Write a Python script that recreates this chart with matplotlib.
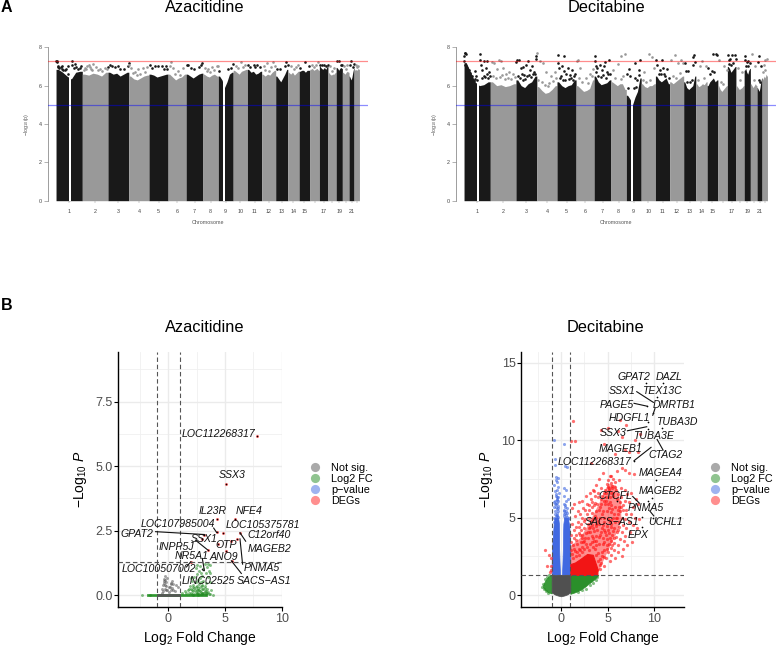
#!/usr/bin/env python3
import matplotlib
matplotlib.use("Agg")
import matplotlib.pyplot as plt
from matplotlib.lines import Line2D

plt.rcParams['font.family'] = ['Liberation Sans', 'DejaVu Sans']
plt.rcParams['mathtext.fontset'] = 'custom'
plt.rcParams['mathtext.rm'] = 'Liberation Sans'
plt.rcParams['mathtext.it'] = 'Liberation Sans:italic'
plt.rcParams['mathtext.default'] = 'regular'

# ---- manhattan data ----
chrom_len = [249, 243, 198, 191, 181, 171, 159, 146, 141, 135, 135, 133, 115, 107, 102, 90, 81, 78, 59, 63, 48, 51]
chrom_ticks = ['1', '2', '3', '4', '5', '6', '7', '8', '9', '10', '11', '12', '13', '14', '15', '', '17', '', '19', '', '21', '']
gap_chrom = [1, 9]
gap_start = [124, 47]
gap_end = [141, 66]

aza_top = [
    [6.85, 6.7, 6.5, 6.35, 6.7, 6.75], [6.6, 6.55, 6.65, 6.6, 6.5, 6.7], [6.7, 6.6, 6.65, 6.5, 6.6, 6.7],
    [6.5, 6.35, 6.3, 6.4, 6.5, 6.55], [6.6, 6.55, 6.45, 6.5, 6.55, 6.6], [6.6, 6.45, 6.3, 6.4, 6.45, 6.6],
    [6.6, 6.5, 6.4, 6.5, 6.6, 6.65], [6.6, 6.5, 6.45, 6.55, 6.6, 6.5], [6.5, 6.3, 5.9, 6.2, 6.6, 6.7],
    [6.8, 6.7, 6.6, 6.75, 6.8, 6.85], [6.85, 6.7, 6.75, 6.6, 6.65, 6.75], [6.6, 6.5, 6.6, 6.55, 6.7, 6.8],
    [6.5, 6.35, 6.2, 6.4, 6.6, 6.85], [6.7, 6.6, 6.7, 6.55, 6.65, 6.75], [6.75, 6.8, 6.8, 6.7, 6.8, 6.8],
    [6.85, 6.9, 6.8, 6.85, 6.9, 6.8], [7.0, 6.9, 6.85, 6.95, 6.85, 7.0], [6.7, 6.6, 6.55, 6.6, 6.6, 6.7],
    [6.95, 6.9, 6.8, 6.9, 6.95, 6.9], [6.7, 6.65, 6.6, 6.7, 6.75, 6.7], [6.5, 6.4, 6.3, 6.45, 6.7, 6.9],
    [6.85, 6.8, 6.85, 6.8, 6.9, 6.85]]

dec_top = [
    [7.2, 6.7, 6.2, 6.0, 6.05, 6.2], [6.2, 6.0, 6.05, 5.95, 6.0, 6.1], [6.3, 6.0, 5.9, 6.1, 6.2, 6.5],
    [5.95, 5.75, 5.6, 5.65, 5.8, 6.0], [6.2, 6.0, 5.9, 6.0, 6.05, 6.3], [6.0, 5.85, 5.7, 5.75, 5.85, 6.3],
    [6.5, 6.2, 6.05, 6.1, 6.15, 6.3], [6.2, 6.1, 6.0, 6.1, 6.1, 5.8], [5.5, 5.3, 5.0, 5.4, 5.7, 6.4],
    [6.1, 5.95, 5.9, 6.0, 6.0, 6.1], [6.5, 6.3, 6.2, 6.3, 6.4, 6.1], [6.2, 6.1, 6.2, 6.3, 6.4, 6.5],
    [6.2, 5.9, 5.8, 5.9, 6.0, 6.5], [6.1, 5.95, 6.0, 6.1, 6.05, 6.2], [6.0, 6.2, 6.3, 6.4, 6.2, 6.3],
    [6.0, 5.8, 5.7, 5.8, 5.9, 6.0], [7.0, 6.9, 6.7, 6.8, 6.9, 7.0], [6.0, 5.9, 5.8, 5.85, 5.9, 6.0],
    [6.8, 6.9, 6.7, 6.6, 6.8, 6.9], [6.1, 6.0, 5.9, 6.0, 6.1, 6.0], [5.9, 5.8, 5.7, 5.9, 6.2, 6.4],
    [6.3, 6.4, 6.5, 6.4, 6.6, 6.5]]

aza_hits = [
    (1, 3, 7.3), (1, 6, 7.3), (1, 10, 7.25), (1, 14, 7.05), (1, 22, 6.95), (1, 30, 6.9), (1, 44, 6.95), (1, 52, 7.05),
    (1, 60, 6.85), (1, 70, 6.8), (1, 82, 6.8), (1, 95, 6.85), (1, 110, 7.05), (1, 118, 6.6), (1, 150, 7.3), (1, 155, 7.1),
    (1, 170, 6.9), (1, 180, 7.15), (1, 190, 6.95), (1, 205, 6.85), (1, 225, 6.9), (1, 240, 7.0),
    (2, 25, 6.9), (2, 45, 7.05), (2, 60, 7.1), (2, 80, 6.85), (2, 105, 7.15), (2, 130, 6.95), (2, 170, 6.85), (2, 215, 6.9),
    (3, 5, 6.95), (3, 18, 7.1), (3, 40, 7.0), (3, 65, 6.95), (3, 95, 7.05), (3, 110, 6.85), (3, 150, 6.85), (3, 190, 7.05), (3, 196, 7.2),
    (4, 5, 7.1), (4, 20, 6.9), (4, 55, 6.7), (4, 90, 6.85), (4, 130, 6.9), (4, 170, 6.95),
    (5, 6, 7.1), (5, 25, 6.9), (5, 60, 7.05), (5, 90, 7.05), (5, 120, 7.05), (5, 140, 6.85), (5, 165, 7.05), (5, 175, 6.85),
    (6, 20, 7.0), (6, 45, 6.9), (6, 95, 6.75), (6, 140, 6.9), (6, 32, 7.25),
    (7, 8, 7.1), (7, 22, 7.1), (7, 45, 6.9), (7, 70, 6.85), (7, 120, 6.95), (7, 145, 7.1), (7, 152, 7.2),
    (8, 20, 6.9), (8, 50, 6.85), (8, 90, 6.95), (8, 130, 7.0), (8, 142, 7.05),
    (9, 10, 6.75), (9, 95, 6.85), (9, 120, 6.9), (9, 135, 7.15),
    (10, 25, 7.0), (10, 70, 7.25), (10, 110, 7.1),
    (11, 5, 7.1), (11, 25, 6.95), (11, 60, 7.1), (11, 72, 6.95), (11, 95, 7.1), (11, 120, 6.95),
    (12, 20, 7.05), (12, 55, 7.2), (12, 90, 6.95), (12, 110, 7.25), (12, 128, 7.0),
    (13, 10, 6.85), (13, 40, 6.85), (13, 88, 7.05), (13, 100, 7.25), (13, 112, 7.1),
    (14, 30, 7.0), (14, 80, 6.95), (14, 100, 7.1),
    (15, 10, 6.9), (15, 60, 7.25), (15, 90, 7.05),
    (16, 20, 7.1), (16, 60, 7.1), (16, 80, 7.25),
    (17, 5, 7.1), (17, 25, 7.1), (17, 45, 7.1), (17, 65, 7.05), (17, 78, 7.1),
    (18, 20, 7.0), (18, 60, 6.9),
    (19, 10, 7.3), (19, 25, 7.3), (19, 45, 7.1), (19, 55, 7.1),
    (20, 15, 7.0), (20, 45, 7.1),
    (21, 10, 7.1), (21, 20, 7.3), (21, 35, 6.95), (21, 44, 7.15),
    (22, 15, 7.1), (22, 40, 7.05),
    (2, 12, 6.8), (2, 35, 6.85), (2, 70, 6.95), (2, 95, 6.8), (2, 150, 6.8), (2, 190, 6.75), (2, 230, 6.85),
    (4, 35, 6.65), (4, 75, 6.55), (4, 110, 6.6), (4, 150, 6.7), (6, 70, 6.6), (6, 110, 6.55), (8, 35, 6.75), (8, 70, 6.7), (8, 110, 6.8),
    (10, 45, 6.9), (10, 90, 6.95), (12, 35, 6.8), (12, 70, 6.75), (14, 55, 6.85), (16, 40, 6.95), (18, 40, 6.75), (20, 30, 6.85), (22, 28, 6.95)]

dec_hits = [
    (1, 2, 7.55), (1, 6, 7.68), (1, 12, 7.68), (1, 18, 7.66), (1, 4, 7.3), (1, 8, 7.1), (1, 15, 7.0), (1, 24, 6.9), (1, 30, 6.75),
    (1, 38, 6.55), (1, 45, 6.8), (1, 55, 6.65), (1, 62, 6.4), (1, 72, 6.5), (1, 82, 6.3), (1, 100, 6.75), (1, 112, 6.5), (1, 120, 6.3),
    (1, 148, 7.35), (1, 154, 7.66), (1, 162, 7.1), (1, 175, 6.8), (1, 190, 7.3), (1, 205, 6.9), (1, 220, 7.3), (1, 235, 6.7),
    (2, 15, 7.25), (2, 35, 7.2), (2, 60, 6.85), (2, 80, 7.35), (2, 105, 7.3), (2, 125, 6.9), (2, 150, 6.6), (2, 180, 6.7), (2, 215, 6.6),
    (3, 3, 7.25), (3, 10, 7.35), (3, 30, 7.35), (3, 45, 6.9), (3, 65, 6.95), (3, 95, 7.1), (3, 115, 7.3), (3, 130, 6.8), (3, 150, 7.0),
    (3, 170, 6.7), (3, 188, 7.4), (3, 194, 7.55), (3, 55, 6.6), (3, 80, 6.55), (3, 125, 6.55),
    (4, 5, 7.7), (4, 30, 7.3), (4, 60, 7.2), (4, 90, 6.7), (4, 130, 6.5), (4, 170, 6.7),
    (5, 8, 7.6), (5, 10, 7.2), (5, 15, 6.9), (5, 48, 7.0), (5, 65, 7.55), (5, 70, 6.75), (5, 90, 6.6), (5, 100, 6.9), (5, 120, 6.55), (5, 140, 6.8), (5, 160, 6.5),
    (6, 8, 7.3), (6, 22, 7.35), (6, 40, 6.9), (6, 90, 6.4), (6, 130, 6.6),
    (7, 6, 7.55), (7, 10, 7.3), (7, 14, 7.05), (7, 30, 6.9), (7, 55, 7.1), (7, 75, 6.8), (7, 95, 7.0), (7, 105, 7.25), (7, 125, 6.7), (7, 145, 7.35),
    (8, 20, 6.8), (8, 70, 7.15), (8, 95, 7.55), (8, 130, 7.65),
    (9, 10, 6.6), (9, 30, 6.85), (9, 35, 6.5), (9, 80, 7.2), (9, 85, 6.4), (9, 105, 6.3), (9, 118, 6.8), (9, 130, 7.35),
    (10, 30, 6.7), (10, 70, 7.65), (10, 100, 7.5), (10, 120, 6.9),
    (11, 4, 7.35), (11, 18, 7.1), (11, 45, 6.8), (11, 60, 7.35), (11, 70, 6.9), (11, 85, 6.6), (11, 110, 6.85),
    (12, 15, 7.35), (12, 50, 7.6), (12, 75, 7.2), (12, 110, 7.35), (12, 128, 7.2),
    (13, 8, 7.2), (13, 20, 6.75), (13, 45, 6.75), (13, 85, 7.1), (13, 92, 7.5), (13, 100, 7.6), (13, 110, 7.25),
    (14, 40, 7.0), (14, 60, 7.3), (14, 100, 7.0),
    (15, 10, 6.9), (15, 45, 6.75), (15, 60, 7.65), (15, 85, 7.65), (15, 98, 7.6),
    (16, 10, 7.35), (16, 60, 7.0), (16, 82, 6.8),
    (17, 5, 7.6), (17, 15, 7.35), (17, 28, 7.4), (17, 48, 7.6), (17, 70, 7.6), (17, 78, 7.4), (17, 38, 7.1),
    (18, 20, 6.9), (18, 60, 6.7),
    (19, 5, 7.35), (19, 12, 7.55), (19, 25, 7.25), (19, 40, 7.3), (19, 52, 7.2),
    (20, 15, 7.65), (20, 45, 7.0),
    (21, 8, 7.25), (21, 22, 7.55), (21, 40, 7.0),
    (22, 15, 7.1), (22, 30, 7.35), (22, 45, 7.4),
    (1, 35, 6.35), (1, 50, 6.3), (1, 90, 6.25), (1, 105, 6.35), (1, 170, 6.4), (1, 185, 6.5), (1, 200, 6.45), (1, 215, 6.6), (1, 228, 6.4), (1, 243, 6.5),
    (2, 25, 6.5), (2, 50, 6.4), (2, 95, 6.45), (2, 115, 6.55), (2, 140, 6.35), (2, 165, 6.4), (2, 195, 6.35), (2, 230, 6.45),
    (3, 20, 6.5), (3, 38, 6.4), (3, 70, 6.3), (3, 90, 6.35), (3, 105, 6.5), (3, 140, 6.45), (3, 160, 6.6), (3, 180, 6.6),
    (4, 15, 6.3), (4, 45, 6.2), (4, 75, 6.05), (4, 105, 6.0), (4, 120, 6.15), (4, 150, 6.25), (4, 180, 6.4),
    (5, 25, 6.4), (5, 35, 6.5), (5, 55, 6.3), (5, 80, 6.3), (5, 110, 6.35), (5, 130, 6.4), (5, 150, 6.3), (5, 172, 6.6),
    (6, 30, 6.4), (6, 60, 6.2), (6, 110, 6.15), (6, 150, 6.5), (6, 165, 6.85),
    (7, 20, 6.7), (7, 40, 6.5), (7, 65, 6.45), (7, 85, 6.55), (7, 110, 6.4), (7, 135, 6.6), (7, 152, 6.6),
    (8, 40, 6.4), (8, 100, 6.35), (8, 115, 6.5), (9, 20, 5.9), (9, 75, 5.9), (9, 95, 5.95), (9, 125, 6.55),
    (10, 15, 6.3), (10, 50, 6.2), (10, 85, 6.3), (11, 30, 6.6), (11, 55, 6.6), (11, 95, 6.5), (11, 125, 6.4),
    (12, 30, 6.5), (12, 60, 6.4), (12, 95, 6.65), (13, 30, 6.2), (13, 60, 6.2), (13, 75, 6.3), (14, 20, 6.3), (14, 80, 6.4),
    (15, 30, 6.6), (15, 70, 6.7), (16, 30, 6.2), (16, 50, 6.1), (17, 55, 7.2), (17, 20, 7.15), (18, 40, 6.3),
    (19, 18, 7.05), (19, 32, 7.0), (20, 30, 6.3), (21, 15, 6.3), (21, 30, 6.2), (22, 25, 6.8), (22, 8, 6.7)]

# ---- volcano data, azacitidine ----
az_red_x = [7.85, 5.12, 4.26, 5.88, 4.26, 6.32, 3.18, 4.85, 5.56, 6.1, 5.12, 3.5, 3.0, 1.97, 4.4, 5.6]
az_red_y = [6.17, 4.29, 2.94, 2.95, 2.43, 2.42, 2.35, 2.42, 2.1, 2.18, 1.72, 1.76, 2.16, 1.29, 2.0, 1.33]
az_green_x = [-2.3, -1.6, 1.2, 1.5, 1.7, 1.8, 1.9, 2.0, 2.0, 2.1, 2.2, 2.2, 2.3, 2.3, 2.4, 2.4, 2.5, 2.5, 2.5, 2.6, 2.6, 2.7, 2.7,
              2.8, 2.8, 2.8, 2.9, 2.9, 3.0, 3.0, 3.0, 3.1, 3.1, 3.2, 3.2, 3.3, 3.3, 3.4, 3.4, 3.5, 3.5, 3.6, 3.7, 3.7, 3.8, 2.2, 2.6, 3.0,
              3.3, 3.6, 3.9, 3.7, 2.4, 2.8, 3.2, 3.5, 2.0, 2.5, 3.7,
              1.6, 1.85, 2.05, 2.15, 2.35, 2.45, 2.55, 2.65, 2.75, 2.85, 2.95, 3.05, 3.15, 3.25, 3.35, 3.45, 2.3, 2.5, 2.7, 2.9, 3.1, 3.3, 2.1, 2.6, 3.0]
az_green_y = [0.0, 0.02, 0.1, 0.15, 0.2, 0.1, 0.35, 0.25, 0.08, 0.55, 0.15, 0.4, 0.7, 0.28, 0.5, 0.12, 0.8, 0.35, 0.18, 0.6, 0.08,
              0.95, 0.42, 0.3, 0.65, 0.15, 0.85, 0.5, 0.25, 0.75, 0.1, 0.55, 1.0, 0.35, 0.15, 0.85, 0.45, 1.1, 0.25, 0.7, 0.12, 0.95, 1.15,
              0.5, 0.2, 0.02, 0.02, 0.03, 0.04, 0.03, 0.02, 0.05, 1.05, 1.12, 1.2, 1.22, 0.65, 1.15, 0.85,
              0.08, 0.22, 0.18, 0.3, 0.2, 0.32, 0.1, 0.28, 0.2, 0.12, 0.35, 0.22, 0.1, 0.28, 0.14, 0.08, 0.06, 0.06, 0.05, 0.06, 0.07, 0.07, 0.05, 0.2, 0.4]
az_grey_x = [-0.55, -0.45, -0.35, -0.3, -0.25, -0.2, -0.15, -0.45, -0.3, -0.2, -0.1, 0.05, 0.2, 0.3, 0.35, 0.1, 0.4, 0.55, 0.7, 0.85, -0.4, 0.25, -0.6, 0.45, -0.35, -0.28, -0.22, 0.18, 0.28]
az_grey_y = [0.25, 0.4, 0.55, 0.75, 0.6, 0.35, 0.68, 0.15, 0.25, 0.5, 0.2, 0.12, 0.42, 0.55, 0.28, 0.3, 0.42, 0.15, 0.38, 0.32, 0.62, 0.2, 0.1, 0.2, 0.45, 0.4, 0.18, 0.32, 0.45]
az_strip_x = [-1.9, -1, 1, 3.4]
az_labels = ['LOC112268317', 'SSX3', 'IL23R', 'NFE4', 'LOC107985004', 'LOC105375781', 'GPAT2', 'C12orf40', 'MAGEB2', 'PNMA5',
             'SACS\u2212AS1', 'ANO9', 'OTP', 'SSX1', 'INPP5J', 'NR5A1', 'LOC100507002', 'LINC02525']
az_text_x = [4.41, 5.62, 3.91, 7.12, 0.88, 8.38, -2.76, 8.85, 8.94, 8.26, 8.44, 4.94, 5.09, 3.18, 0.7, 2.03, -0.79, 3.53]
az_text_y = [6.26, 4.66, 3.27, 3.27, 2.74, 2.72, 2.37, 2.33, 1.79, 1.07, 0.56, 1.46, 1.93, 2.16, 1.88, 1.5, 1.0, 0.56]
az_seg_x0 = [None, None, None, None, 4.0, None, -1.12, None, 6.82, 6.32, 6.44, None, None, None, 2.4, 3.0, 1.6, 3.0]
az_seg_y0 = [None, None, None, None, 2.6, None, 2.46, None, 2.09, 2.18, 0.84, None, None, None, 2.13, 1.42, 1.09, 1.0]
az_seg_x1 = [None, None, None, None, 4.26, None, 3.18, None, 6.32, 6.55, 5.56, None, None, None, 3.45, 3.18, 1.97, 3.1]
az_seg_y1 = [None, None, None, None, 2.43, None, 2.35, None, 2.42, 1.2, 1.33, None, None, None, 1.76, 0.95, 1.29, 0.95]

# ---- volcano data, decitabine ----
de_grey_x = [-1, -0.7, -0.4, 0, 0.4, 0.7, 1]
de_grey_low = [0.18, 0.05, -0.02, -0.08, -0.02, 0.05, 0.18]
de_green_x = [1, 1.5, 2.04, 2.6, 2.93, 3.3, 3.64, 4.0]
de_green_low = [0.08, 0.18, 0.33, 0.55, 0.72, 0.88, 1.05, 1.3]
de_lgreen_x = [-1.9, -1.7, -1.4, -1]
de_lgreen_up = [0.65, 0.9, 1.15, 1.3]
de_lgreen_low = [0.5, 0.35, 0.2, 0.12]
de_blue_y = [1.3, 2, 3, 4, 4.6, 5.0]
de_blue_l_out = [-1, -1, -0.96, -0.85, -0.78, -0.7]
de_blue_l_in = [-0.1, -0.15, -0.2, -0.2, -0.22, -0.3]
de_blue_r_in = [0.1, 0.15, 0.2, 0.22, 0.25, 0.34]
de_blue_r_out = [1, 1, 1, 0.95, 0.85, 0.72]
de_core_x = [1, 1.5, 2, 2.8, 3.4, 3.9]
de_core_low = [1.3, 1.3, 1.3, 1.3, 1.3, 1.3]
de_core_up = [2.0, 2.1, 2.3, 2.65, 2.6, 1.7]
de_mid_x = [1, 2, 3, 4, 5, 5.8, 6.4]
de_mid_low = [1.3, 1.3, 1.3, 1.6, 2.9, 3.9, 4.8]
de_mid_up = [3.2, 3.7, 4.7, 5.9, 7.2, 7.1, 6.0]

de_blue_x = [-0.8, 0.3, -0.65, -0.6, 0.42, 0.6, -0.5, -0.35, -0.55, -0.4, -0.7, -0.3, 0.35, 0.55, -0.45, -0.65, -0.25, -0.5, 0.3, 0.75,
             -0.38, -0.6, -0.42, -0.55, 0.5, 0.4, -0.3, -0.75, 0.65, -0.48, -0.35, 0.28, 0.85, -0.6, -0.45, 0.45, -0.3, 0.7,
             -0.7, -0.55, -0.4, -0.3, -0.62, -0.48, -0.36, -0.68, -0.52, -0.42, 0.3, 0.42, 0.55, 0.68, 0.36, 0.5, 0.62, 0.8, 0.3, 0.44,
             -0.75, -0.58, -0.34, -0.72, -0.46, 0.35, 0.6]
de_blue_y2 = [10.0, 9.75, 8.8, 8.4, 8.3, 8.25, 7.6, 7.55, 7.45, 7.3, 7.1, 7.0, 6.9, 6.8, 6.75, 6.7, 6.6, 6.5, 6.4, 6.2,
              6.15, 6.05, 5.95, 5.85, 6.1, 5.8, 5.75, 5.65, 5.6, 5.55, 5.45, 5.4, 5.0, 5.2, 5.1, 5.3, 6.3, 4.4,
              5.0, 5.1, 5.15, 5.05, 5.4, 5.3, 5.6, 5.9, 5.7, 6.3, 5.1, 5.0, 5.15, 5.05, 5.5, 5.45, 5.3, 4.9, 5.9, 5.7,
              4.7, 6.4, 6.05, 6.0, 6.2, 5.2, 4.8]

de_red_pts = [
    (1.3, 11.2), (1.1, 9.95), (1.55, 9.95), (3.2, 8.5), (5.8, 7.3), (5.2, 7.65), (5.4, 7.7), (5.05, 7.4), (5.6, 7.5), (5.3, 7.2), (4.9, 7.15), (6.2, 7.4), (6.5, 8.2),
    (4.5, 7.9), (6.9, 8.1), (7.3, 7.9), (7.8, 7.8), (6.0, 8.0), (4.1, 7.5), (3.8, 7.1), (4.3, 6.9), (4.7, 6.8), (5.1, 6.75), (5.5, 6.9), (5.9, 6.8), (6.4, 6.9), (6.8, 6.8),
    (7.1, 6.5), (7.5, 6.6), (8.0, 6.2), (3.4, 6.8), (3.1, 6.6), (2.7, 6.4), (2.3, 6.1), (1.9, 6.0), (1.4, 5.9), (1.8, 5.4), (1.15, 5.6), (1.5, 5.1), (2.0, 5.2), (2.4, 5.6),
    (2.8, 5.9), (3.2, 6.2), (3.6, 6.4), (4.0, 6.3), (4.4, 6.4), (4.8, 6.35), (5.2, 6.3), (5.6, 6.4), (6.0, 6.2), (6.4, 6.3), (6.8, 6.1), (7.3, 6.0), (7.7, 5.7), (8.2, 5.9),
    (3.5, 5.8), (3.9, 5.9), (4.3, 5.9), (4.7, 5.85), (5.0, 5.9), (5.4, 5.8), (5.8, 5.7), (6.2, 5.7), (6.6, 5.5), (7.0, 5.5), (7.5, 5.2), (7.9, 5.0), (8.4, 4.9),
    (3.3, 5.3), (3.7, 5.4), (4.1, 5.5), (4.5, 5.4), (4.9, 5.4), (5.3, 5.35), (5.7, 5.2), (6.1, 5.2), (6.5, 5.0), (6.9, 4.9), (7.3, 4.7), (7.7, 4.5), (8.1, 4.3),
    (2.6, 4.9), (3.0, 5.0), (3.4, 4.9), (3.8, 5.0), (4.2, 5.0), (4.6, 4.95), (5.0, 4.9), (5.4, 4.85), (5.8, 4.7), (6.2, 4.7), (6.6, 4.5), (7.0, 4.3), (7.4, 4.1), (7.6, 3.4),
    (1.2, 4.6), (1.6, 4.4), (2.1, 4.6), (2.5, 4.3), (2.9, 4.6), (3.3, 4.5), (3.7, 4.6), (4.1, 4.6), (4.5, 4.5), (4.9, 4.45), (5.3, 4.4), (5.7, 4.3), (6.1, 4.2), (6.5, 4.05), (6.9, 3.8),
    (1.1, 3.9), (1.4, 3.7), (1.9, 4.0), (2.3, 3.9), (2.7, 4.0), (3.1, 4.1), (3.5, 4.15), (3.9, 4.2), (4.3, 4.1), (4.7, 4.05), (5.1, 4.0), (5.5, 3.9), (5.9, 3.75), (6.3, 3.6), (6.7, 3.5),
    (1.25, 3.2), (1.7, 3.3), (2.1, 3.4), (2.5, 3.5), (2.9, 3.7), (3.3, 3.8), (3.7, 3.8), (4.1, 3.75), (4.5, 3.7), (4.9, 3.6), (5.3, 3.5), (5.7, 3.35), (6.1, 3.2), (6.6, 3.0), (7.1, 3.2),
    (1.05, 2.9), (1.5, 2.85), (1.9, 3.0), (2.3, 3.1), (2.7, 3.3), (4.5, 3.3), (4.9, 3.2), (5.3, 3.05), (5.7, 2.9), (6.1, 2.75), (6.5, 2.5), (4.6, 2.9), (5.0, 2.8), (5.4, 2.6), (5.8, 2.4),
    (4.4, 2.5), (4.8, 2.4), (5.2, 2.2), (4.3, 2.1), (4.6, 1.9), (3.9, 1.6), (4.2, 1.7), (-1.2, 1.5), (-1.5, 1.9), (-1.1, 2.4), (-1.3, 2.6), (-1.7, 2.9), (-1.1, 1.9), (-1.05, 1.6),
    (4.6, 4.7), (4.4, 5.2), (5.1, 5.6), (5.5, 5.55), (5.2, 6.0), (4.8, 6.1), (5.0, 7.0), (5.3, 6.6), (5.6, 6.6), (4.6, 6.6), (4.2, 5.7), (3.6, 5.1), (3.2, 4.8), (4.0, 4.8), (3.4, 4.3),
    (2.2, 3.7), (3.0, 4.3), (4.4, 4.3), (4.2, 3.9), (4.8, 3.9), (5.1, 3.3), (5.5, 3.2), (2.0, 2.9), (2.6, 3.7), (3.8, 4.45), (4.6, 4.2), (5.2, 4.7), (5.6, 5.0), (6.0, 5.0), (6.3, 5.4),
    (4.3, 10.65), (5.0, 10.8), (6.5, 10.2), (7.9, 10.0), (4.6, 9.75), (5.8, 9.1), (6.9, 9.35), (7.3, 9.2), (8.2, 9.2), (6.1, 10.6), (7.0, 11.0), (6.3, 11.3), (8.5, 10.4),
    (1.1, 3.4), (1.35, 4.2), (1.6, 3.9), (1.85, 4.7), (2.15, 4.2), (2.45, 4.8), (2.75, 5.2), (3.05, 5.5), (3.35, 5.7), (3.65, 5.95), (3.95, 6.6), (4.25, 6.2), (4.55, 6.1),
    (4.85, 6.6), (5.15, 6.9), (5.45, 7.05), (5.75, 6.95), (6.05, 6.55), (6.35, 6.0), (6.65, 5.8), (6.95, 5.2), (6.25, 4.4), (5.95, 4.05), (5.65, 3.7), (5.25, 3.7), (4.95, 2.95),
    (4.55, 2.45), (4.15, 2.3), (1.2, 2.65), (1.75, 2.75), (2.35, 3.4), (2.85, 4.05), (3.15, 4.4), (3.45, 3.7), (3.75, 3.5), (4.05, 3.3), (4.35, 2.8), (4.65, 3.4), (5.05, 4.2),
    (5.35, 4.6), (5.55, 4.15), (5.85, 5.0), (6.15, 5.5), (6.45, 5.7), (1.4, 2.95), (1.65, 3.55), (2.05, 3.9), (2.2, 5.0), (2.6, 5.5), (3.0, 5.8), (3.3, 6.0), (3.55, 6.7), (1.95, 4.4),
    (1.3, 2.4), (1.6, 2.5), (1.9, 2.6), (2.2, 2.8), (2.5, 2.95), (2.8, 3.1), (3.1, 3.3), (3.4, 3.1), (3.6, 2.95), (3.8, 2.6), (3.95, 2.2), (3.3, 3.45), (3.0, 2.9), (3.7, 3.2), (4.0, 2.7), (4.15, 1.95), (3.55, 3.5)]
de_green_pts = [(-2.0, 0.5), (-1.95, 0.7), (-1.75, 1.05), (-1.55, 1.15), (-1.85, 0.4), (-1.6, 0.25), (-1.25, 1.3), (-1.4, 0.15), (3.9, 1.15), (3.75, 0.95), (3.4, 0.75), (3.1, 0.62), (2.7, 0.42), (2.3, 0.3), (1.8, 0.17)]
de_black_x = [9.11, 10.96, 10.25, 9.18, 9.89, 9.36, 10.79, 9.36, 8.39, 10.18, 9.71, 9.29, 8.71, 9.89, 8.71, 7.82, 6.0]
de_black_y = [13.7, 13.7, 12.8, 12.19, 11.75, 11.18, 10.8, 10.69, 9.83, 7.42, 6.28, 6.06, 5.05, 5.0, 4.37, 8.67, 6.1]
de_labels = ['GPAT2', 'DAZL', 'SSX1', 'TEX13C', 'PAGE5', 'DMRTB1', 'HDGFL1', 'TUBA3D', 'SSX3', 'TUBA3E', 'MAGEB1', 'CTAG2', 'LOC112268317',
             'MAGEA4', 'MAGEB2', 'CTCFL', 'PNMA5', 'SACS\u2212AS1', 'UCHL1', 'EPX']
de_text_x = [7.82, 11.57, 6.54, 10.82, 5.96, 12.14, 7.32, 12.36, 5.54, 9.89, 6.39, 11.21, 3.64, 10.61, 10.64, 5.79, 9.07, 5.5, 11.14, 8.21]
de_text_y = [14.09, 14.09, 13.14, 13.18, 12.28, 12.26, 11.42, 11.18, 10.43, 10.26, 9.42, 9.01, 8.56, 7.89, 6.69, 6.41, 5.63, 4.71, 4.71, 3.85]
de_seg_x0 = [None, None, 8.11, None, 7.82, 10.06, None, None, 7.11, None, None, 10.29, 7.82, None, None, 7.68, None, None, 9.5, None]
de_seg_y0 = [None, None, 13.12, None, 12.37, 12.03, None, None, 10.6, None, None, 10.04, 8.67, None, None, 6.36, None, None, 5.43, None]
de_seg_x1 = [None, None, 9.89, None, 9.18, 9.82, None, None, 9.18, None, None, 10.93, 9.64, None, None, 8.39, None, None, 9.93, None]
de_seg_y1 = [None, None, 12.43, None, 12.19, 11.6, None, None, 10.86, None, None, 9.35, 9.53, None, None, 5.93, None, None, 5.11, None]

legend_names = ['Not sig.', 'Log2 FC', 'p\u2212value', 'DEGs']
legend_cols = ['#555555', '#228b22', '#4169e1', '#ff2020']

W, H = 776.0, 646.0
DARK, LIGHT = '#191919', '#999999'


def axes_px(left, top, right, bottom):
    return fig.add_axes([left / W, 1 - bottom / H, (right - left) / W, (bottom - top) / H])


def manhattan(ax, tops, hits):
    offs = [sum(chrom_len[:i]) for i in range(22)]
    for i, n in enumerate(chrom_len):
        col = DARK if i % 2 == 0 else LIGHT
        w = n / len(tops[i])
        xs = [offs[i]] + [offs[i] + (j + 0.5) * w for j in range(len(tops[i]))] + [offs[i] + n]
        ys = [tops[i][0]] + tops[i] + [tops[i][-1]]
        ax.fill_between(xs, 0, ys, color=col, linewidth=0)
    for c, s, e in zip(gap_chrom, gap_start, gap_end):
        ax.bar(offs[c - 1] + (s + e) / 2, 8, width=e - s, color='white', linewidth=0)
    for c, p, y in hits:
        col = DARK if c % 2 == 1 else LIGHT
        ax.scatter(offs[c - 1] + p, y, s=3.6, color=col, linewidths=0, clip_on=False, zorder=3)
    ax.axhline(7.3, color='#ff0000', alpha=0.45, lw=0.9, zorder=4)
    ax.axhline(5, color='#0000ff', alpha=0.45, lw=0.9, zorder=4)
    ax.set_xlim(-79, 2957)
    ax.set_ylim(0, 8)
    for s in ['top', 'right', 'bottom']:
        ax.spines[s].set_visible(False)
    ax.spines['left'].set_color('#777777')
    ax.spines['left'].set_linewidth(0.5)
    ax.set_yticks([0, 2, 4, 6, 8])
    ax.tick_params(axis='y', length=3, width=0.4, color='#777777', labelsize=3.9, labelcolor='#444444', pad=1.5)
    ax.set_xticks([offs[i] + chrom_len[i] / 2 for i in range(22)])
    ax.set_xticklabels(chrom_ticks)
    ax.tick_params(axis='x', length=1.5, width=0.3, color='#888888', labelsize=3.9, labelcolor='#444444', pad=4.5)
    ax.set_xlabel('Chromosome', fontsize=3.9, color='#555555', labelpad=4.5)
    ax.set_ylabel(r'$-\log_{10}(p)$', fontsize=3.8, color='#555555', labelpad=5)


def volcano_frame(ax, xlim, ylim, yticks, yminor):
    ax.set_xlim(*xlim)
    ax.set_ylim(*ylim)
    ax.set_xticks([0, 5, 10])
    ax.set_yticks(yticks)
    for x in [-2.5, 2.5, 7.5]:
        ax.axvline(x, color='#f0f0f0', lw=0.6, zorder=0)
    for y in yminor:
        ax.axhline(y, color='#f0f0f0', lw=0.6, zorder=0)
    ax.grid(True, color='#ebebeb', lw=1.0, zorder=0)
    ax.set_axisbelow(True)
    for s in ['top', 'right']:
        ax.spines[s].set_visible(False)
    for s in ['left', 'bottom']:
        ax.spines[s].set_linewidth(1.0)
    ax.tick_params(length=2.7, width=0.8, labelsize=9, labelcolor='#4d4d4d', pad=1.5)
    ax.set_xlabel(r'$Log_2$ Fold Change', fontsize=10, labelpad=3)
    ax.set_ylabel(r'$-Log_{10}$ $\mathit{P}$', fontsize=10, labelpad=4.5)


def cutoffs(ax):
    for x in [-1, 1]:
        ax.axvline(x, color='#555555', lw=0.8, ls=(0, (4, 2.5)), zorder=6)
    ax.axhline(1.3, color='#555555', lw=0.8, ls=(0, (4, 2.5)), zorder=6)


def gene_labels(ax, names, tx, ty, x0, y0, x1, y1):
    for n, x, y in zip(names, tx, ty):
        ax.text(x, y, n, fontsize=7.6, style='italic', ha='center', va='center', color='#111111', zorder=8)
    for a, b, c, d in zip(x0, y0, x1, y1):
        if a is not None:
            ax.plot([a, c], [b, d], color='#111111', lw=0.8, zorder=7)


def volcano_legend(ax, anchor):
    handles = [Line2D([], [], ls='', marker='o', ms=6.6, mew=0, color=c, alpha=0.5) for c in legend_cols]
    ax.legend(handles, legend_names, loc='center left', bbox_to_anchor=anchor, frameon=False, fontsize=7.8,
              labelspacing=0.1, handletextpad=0.8, borderpad=0, handlelength=1.4)


fig = plt.figure(figsize=(7.76, 6.46), dpi=100)

ax1 = axes_px(47.7, 47.3, 368, 200.7)
manhattan(ax1, aza_top, aza_hits)
ax2 = axes_px(455.7, 47.3, 776, 200.7)
manhattan(ax2, dec_top, dec_hits)

# left volcano
ax3 = axes_px(118.3, 351.7, 281.7, 606.7)
volcano_frame(ax3, (-4.41, 10), (-0.45, 9.44), [0, 2.5, 5, 7.5], [1.25, 3.75, 6.25, 8.75])
ax3.fill_between(az_strip_x, -0.05, 0.05, color='#2f962f', lw=0.5, zorder=2)
ax3.fill_between([-1, 1], -0.05, 0.05, color='#555555', lw=0.5, zorder=3)
ax3.scatter(az_green_x, az_green_y, s=4.5, color='#228b22', alpha=0.55, linewidths=0, zorder=3)
ax3.scatter(az_grey_x, az_grey_y, s=4.5, color='#555555', alpha=0.55, linewidths=0, zorder=3)
ax3.scatter(az_red_x, az_red_y, s=5, color='#ff2020', alpha=0.6, linewidths=0, zorder=4)
ax3.scatter(az_red_x, az_red_y, s=1.3, color='black', linewidths=0, zorder=5)
cutoffs(ax3)
gene_labels(ax3, az_labels, az_text_x, az_text_y, az_seg_x0, az_seg_y0, az_seg_x1, az_seg_y1)
volcano_legend(ax3, (1.125, 0.48))

# right volcano
ax4 = axes_px(521.3, 351.7, 684.3, 606.7)
volcano_frame(ax4, (-4.25, 13.2), (-0.75, 15.7), [0, 5, 10, 15], [2.5, 7.5, 12.5])
ax4.fill_between(de_green_x, de_green_low, 1.3, color='#2a8f2a', lw=0.5, zorder=2)
ax4.fill_between(de_lgreen_x, de_lgreen_low, de_lgreen_up, color='#3a9a3a', lw=0.8, zorder=2)
ax4.scatter([p[0] for p in de_green_pts], [p[1] for p in de_green_pts], s=5, color='#228b22', alpha=0.55, linewidths=0, zorder=2)
ax4.fill_between(de_grey_x, de_grey_low, 1.3, color='#505050', lw=0.5, zorder=3)
ax4.fill_betweenx(de_blue_y, de_blue_l_out, de_blue_l_in, color='#4169e1', lw=0.5, zorder=2)
ax4.fill_betweenx(de_blue_y, de_blue_r_in, de_blue_r_out, color='#4169e1', lw=0.5, zorder=2)
ax4.fill_between(de_mid_x, de_mid_low, de_mid_up, color='#ff2020', alpha=0.5, lw=0, zorder=2)
ax4.fill_between(de_core_x, de_core_low, de_core_up, color='#f21515', lw=0.8, zorder=2)
ax4.scatter(de_blue_x, de_blue_y2, s=5, color='#4169e1', alpha=0.6, linewidths=0, zorder=3)
ax4.scatter([p[0] for p in de_red_pts], [p[1] for p in de_red_pts], s=5.5, color='#ff1010', alpha=0.6, linewidths=0, zorder=3)
ax4.scatter(de_black_x, de_black_y, s=1.5, color='black', linewidths=0, zorder=5)
cutoffs(ax4)
gene_labels(ax4, de_labels, de_text_x, de_text_y, de_seg_x0, de_seg_y0, de_seg_x1, de_seg_y1)
volcano_legend(ax4, (1.11, 0.48))

# titles and panel letters
fig.text(205 / W, 1 - 7 / H, 'Azacitidine', fontsize=11.8, ha='center', va='center')
fig.text(606 / W, 1 - 7 / H, 'Decitabine', fontsize=11.8, ha='center', va='center')
fig.text(205 / W, 1 - 328 / H, 'Azacitidine', fontsize=11.8, ha='center', va='center')
fig.text(605 / W, 1 - 328 / H, 'Decitabine', fontsize=11.8, ha='center', va='center')
fig.text(1 / W, 1 - 7 / H, 'A', fontsize=11.5, weight='bold', ha='left', va='center')
fig.text(1 / W, 1 - 305 / H, 'B', fontsize=11.5, weight='bold', ha='left', va='center')

fig.savefig('out.png', dpi=100)
